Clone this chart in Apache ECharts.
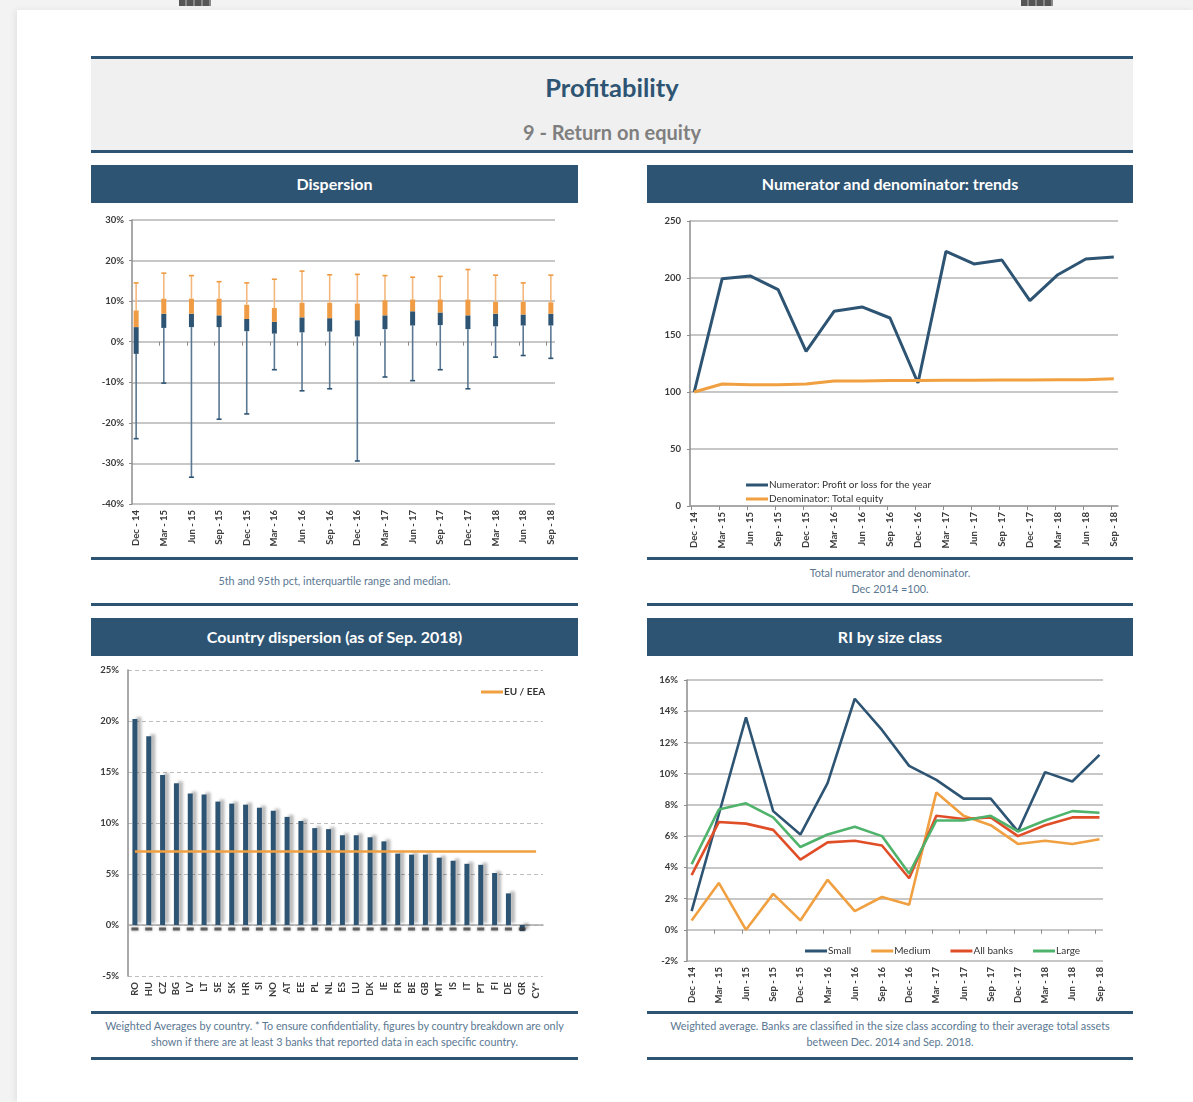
<!DOCTYPE html>
<html><head><meta charset="utf-8">
<script src="https://cdn.jsdelivr.net/npm/echarts@6/dist/echarts.min.js"></script>
<style>
body{margin:0;width:1193px;height:1102px;position:relative;overflow:hidden;background:#f3f3f3;font-family:Lato,"Open Sans",sans-serif;}
#page{position:absolute;left:17px;top:10px;width:1176px;height:1092px;background:#fff;box-shadow:-2px 0 6px rgba(0,0,0,0.07);}
.ic{position:absolute;top:0;height:6px;width:32px;background:repeating-linear-gradient(90deg,#555 0 6px,#888 6px 8px);}
.bar{position:absolute;background:#2e5473;}
.hdr{position:absolute;background:#2e5473;color:#fff;font-weight:bold;font-size:16px;text-align:center;height:38px;line-height:38px;}
.cap{position:absolute;color:#5b7892;font-size:10.8px;text-align:center;line-height:15.5px;}
#chart{position:absolute;left:0;top:0;width:1193px;height:1102px;}
</style></head>
<body>
<div id="page"></div>
<div class="ic" style="left:179px"></div>
<div class="ic" style="left:1021px"></div>
<div class="bar" style="left:91px;top:56px;width:1042px;height:3px"></div>
<div style="position:absolute;left:91px;top:59px;width:1042px;height:91px;background:#f0f0f0"></div>
<div style="position:absolute;left:91px;top:72px;width:1042px;text-align:center;font-size:25.5px;line-height:30px;font-weight:bold;color:#2e5473">Profitability</div>
<div style="position:absolute;left:91px;top:120px;width:1042px;text-align:center;font-size:20px;line-height:24px;font-weight:bold;color:#7f7f7f">9 - Return on equity</div>
<div class="bar" style="left:91px;top:150px;width:1042px;height:3px"></div>

<div class="hdr" style="left:91px;top:165px;width:487px">Dispersion</div>
<div class="hdr" style="left:647px;top:165px;width:486px">Numerator and denominator: trends</div>
<div class="hdr" style="left:91px;top:618px;width:487px">Country dispersion (as of Sep. 2018)</div>
<div class="hdr" style="left:647px;top:618px;width:486px">RI by size class</div>

<div class="bar" style="left:91px;top:557px;width:487px;height:3px"></div>
<div class="bar" style="left:91px;top:603px;width:487px;height:3px"></div>
<div class="bar" style="left:647px;top:557px;width:486px;height:3px"></div>
<div class="bar" style="left:647px;top:603px;width:486px;height:3px"></div>
<div class="bar" style="left:91px;top:1011px;width:487px;height:3px"></div>
<div class="bar" style="left:91px;top:1057px;width:487px;height:3px"></div>
<div class="bar" style="left:647px;top:1011px;width:486px;height:3px"></div>
<div class="bar" style="left:647px;top:1057px;width:486px;height:3px"></div>

<div class="cap" style="left:91px;top:573px;width:487px">5th and 95th pct, interquartile range and median.</div>
<div class="cap" style="left:647px;top:565px;width:486px">Total numerator and denominator.<br>Dec 2014 =100.</div>
<div class="cap" style="left:85px;top:1018px;width:499px;line-height:16px">Weighted Averages by country. * To ensure confidentiality, figures by country breakdown are only<br>shown if there are at least 3 banks that reported data in each specific country.</div>
<div class="cap" style="left:641px;top:1018px;width:498px;line-height:16px">Weighted average. Banks are classified in the size class according to their average total assets<br>between Dec. 2014 and Sep. 2018.</div>

<div id="chart"></div>
<script>
// ---- data ----
const periods = ['Dec - 14','Mar - 15','Jun - 15','Sep - 15','Dec - 15','Mar - 16','Jun - 16','Sep - 16','Dec - 16','Mar - 17','Jun - 17','Sep - 17','Dec - 17','Mar - 18','Jun - 18','Sep - 18'];
// Dispersion (% RoE)
const p5  = [-23.9,-10.2,-33.4,-19.1,-17.8,-6.9,-12.1,-11.6,-29.4,-8.7,-9.6,-6.9,-11.6,-3.8,-3.4,-4.1];
const q1  = [-3.0,3.4,3.6,3.6,2.6,2.0,2.3,2.5,1.3,3.1,4.0,4.1,3.1,3.8,4.0,4.0];
const med = [3.6,6.9,6.9,6.5,5.6,4.9,6.0,5.8,5.3,6.5,7.5,7.2,6.5,6.9,6.7,6.9];
const q3  = [7.7,10.6,10.6,10.6,9.1,8.3,9.6,9.6,9.4,10.2,10.4,10.4,10.4,9.8,9.8,9.7];
const p95 = [14.5,16.9,16.3,14.8,14.5,15.4,17.4,16.5,16.6,16.3,15.9,16.1,17.8,16.4,14.5,16.4];
// Numerator / denominator (Dec 2014 = 100)
const numerator   = [100,199.4,201.8,189.8,135.7,170.8,174.6,164.9,107.9,223.4,212.3,215.8,180.1,202.9,216.7,218.4];
const denominator = [100,107,106.4,106.4,107,109.6,109.6,110,110,110.2,110.2,110.5,110.5,110.8,110.8,111.7];
// Country dispersion
const countries = ['RO','HU','CZ','BG','LV','LT','SE','SK','HR','SI','NO','AT','EE','PL','NL','ES','LU','DK','IE','FR','BE','GB','MT','IS','IT','PT','FI','DE','GR','CY*'];
const countryRoe = [20.2,18.5,14.7,13.9,12.9,12.8,12.1,11.9,11.8,11.5,11.2,10.6,10.2,9.5,9.4,8.8,8.8,8.6,8.2,7.0,6.9,6.9,6.6,6.3,6.0,5.9,5.1,3.1,-0.6,null];
const euAvg = 7.2;
// RI by size class
const small    = [1.2,7.4,13.6,7.6,6.1,9.4,14.8,12.8,10.5,9.6,8.4,8.4,6.3,10.1,9.5,11.2];
const medium   = [0.6,3.0,0.0,2.3,0.6,3.2,1.2,2.1,1.6,8.8,7.3,6.7,5.5,5.7,5.5,5.8];
const allBanks = [3.5,6.9,6.8,6.4,4.5,5.6,5.7,5.4,3.3,7.3,7.1,7.2,6.0,6.7,7.2,7.2];
const large    = [4.2,7.7,8.1,7.2,5.3,6.1,6.6,6.0,3.6,7.0,7.0,7.3,6.3,7.0,7.6,7.5];

// ---- styles ----
const DARK = '#2e5473', ORANGE = '#f0a040', RED = '#e04e28', GREEN = '#4fb36c';
const lbl = {color:'#3a3a3a', fontSize:9.5, fontWeight:'bold', fontFamily:'Lato'};
const legTxt = {fontSize:10, color:'#333', fontFamily:'Lato'};
const gridLine = {show:true, lineStyle:{color:'#b5b5b5', width:1.5}};
const yLine = {show:true, onZero:false, lineStyle:{color:'#8c8c8c', width:1.5}};
const idx = periods.map((_, i) => i);
const periodLabel = v => periods[Math.round(v)] || '';

function periodAxis(grid, min, max) {
  return {type:'value', gridIndex:grid, min:min, max:max, position:'bottom',
    axisLine:{show:false, onZero:false}, axisTick:{show:false}, splitLine:{show:false},
    axisLabel:Object.assign({customValues:idx, formatter:periodLabel, rotate:90, margin:6}, lbl)};
}
function zeroTickAxis(grid, min, max, shift) {
  return {type:'value', gridIndex:grid, min:min, max:max, position:'top',
    axisLine:{show:false, onZero:true}, splitLine:{show:false}, axisLabel:{show:false},
    axisTick:{show:true, inside:true, length:4, customValues:idx.slice(1).map(i => i - shift), lineStyle:{color:'#8c8c8c', width:1}}};
}

const option = {
  animation:false,
  grid:[
    {left:132, top:220, width:423, height:284},
    {left:690, top:221, width:428, height:285},
    {left:128, top:670, width:415, height:306},
    {left:687, top:680, width:416, height:281}
  ],
  xAxis:[
    periodAxis(0, -0.15, 15.15),
    zeroTickAxis(0, -0.15, 15.15, 0.16),
    {type:'value', gridIndex:1, min:-0.15, max:15.15, position:'bottom',
      axisLine:{show:true, onZero:false, lineStyle:{color:'#a0a0a0', width:1.5}},
      axisTick:{show:true, length:4, customValues:idx.map(i => i - 0.1), lineStyle:{color:'#8c8c8c'}},
      splitLine:{show:false},
      axisLabel:Object.assign({customValues:idx, formatter:periodLabel, rotate:90, margin:6}, lbl)},
    {type:'category', gridIndex:2, data:countries, position:'bottom', boundaryGap:true,
      axisLine:{show:false, onZero:false}, axisTick:{show:false},
      axisLabel:Object.assign({interval:0, rotate:90, margin:6}, lbl)},
    {type:'category', gridIndex:2, data:countries, position:'top', boundaryGap:true,
      axisLine:{show:true, onZero:true, lineStyle:{color:'#a8a8a8', width:1.5}}, axisTick:{show:false}, axisLabel:{show:false}},
    periodAxis(3, -0.17, 15.13),
    zeroTickAxis(3, -0.17, 15.13, 0.15)
  ],
  yAxis:[
    {type:'value', gridIndex:0, min:-40, max:30, interval:10, axisLine:yLine, axisTick:{show:true, length:3, lineStyle:{color:'#8c8c8c'}},
      splitLine:gridLine, axisLabel:Object.assign({formatter:'{value}%', margin:8}, lbl)},
    {type:'value', gridIndex:1, min:0, max:250, interval:50, axisLine:yLine, axisTick:{show:true, length:3, lineStyle:{color:'#8c8c8c'}},
      splitLine:gridLine, axisLabel:Object.assign({margin:9}, lbl)},
    {type:'value', gridIndex:2, min:-5, max:25, interval:5, axisLine:yLine, axisTick:{show:false},
      splitLine:{show:true, lineStyle:{color:'#bdbdbd', width:1, type:[4,3]}}, axisLabel:Object.assign({formatter:'{value}%', margin:9}, lbl)},
    {type:'value', gridIndex:3, min:-2, max:16, interval:2, axisLine:yLine, axisTick:{show:true, length:3, lineStyle:{color:'#8c8c8c'}},
      splitLine:gridLine, axisLabel:Object.assign({formatter:'{value}%', margin:9}, lbl)}
  ],
  legend:[
    {data:['Numerator: Profit or loss for the year','Denominator: Total equity'], orient:'vertical', left:741, top:475,
      icon:'rect', itemWidth:22, itemHeight:3, itemGap:4, textStyle:Object.assign({padding:[0,0,0,-4]}, legTxt)},
    {data:['EU / EEA'], left:476, top:682, icon:'rect', itemWidth:22, itemHeight:3,
      textStyle:Object.assign({fontWeight:'bold', padding:[0,0,0,-4]}, legTxt)},
    {data:['Small','Medium','All banks','Large'], left:800, top:941, icon:'rect', itemWidth:22, itemHeight:3, itemGap:20,
      textStyle:Object.assign({padding:[0,0,0,-4]}, legTxt)}
  ],
  series:[
    {type:'custom', name:'Dispersion', xAxisIndex:0, yAxisIndex:0,
      data:idx.map(i => [i, p5[i], q1[i], med[i], q3[i], p95[i]]),
      encode:{x:0, y:[1,2,3,4,5]},
      renderItem:function(params, api){
        const x = api.value(0);
        const c = v => api.coord([x, v]);
        const lo = c(api.value(1)), a = c(api.value(2)), m = c(api.value(3)), b = c(api.value(4)), hi = c(api.value(5));
        const X = lo[0], bw = 5, cw = 5;
        return {type:'group', children:[
          {type:'line', shape:{x1:X, y1:lo[1], x2:X, y2:a[1]}, style:{stroke:'#5a7893', lineWidth:1.6}},
          {type:'line', shape:{x1:X-cw/2, y1:lo[1], x2:X+cw/2, y2:lo[1]}, style:{stroke:DARK, lineWidth:1.6}},
          {type:'line', shape:{x1:X, y1:b[1], x2:X, y2:hi[1]}, style:{stroke:'#f4b87e', lineWidth:1.6}},
          {type:'line', shape:{x1:X-cw/2, y1:hi[1], x2:X+cw/2, y2:hi[1]}, style:{stroke:'#ee9a40', lineWidth:1.6}},
          {type:'rect', shape:{x:X-bw/2, y:m[1], width:bw, height:a[1]-m[1]}, style:{fill:DARK}},
          {type:'rect', shape:{x:X-bw/2, y:b[1], width:bw, height:m[1]-b[1]}, style:{fill:'#ef9c44'}}
        ]};
      }},
    {type:'line', name:'Numerator: Profit or loss for the year', xAxisIndex:2, yAxisIndex:1,
      data:idx.map(i => [i, numerator[i]]), symbol:'none', lineStyle:{color:DARK, width:3}, itemStyle:{color:DARK}},
    {type:'line', name:'Denominator: Total equity', xAxisIndex:2, yAxisIndex:1,
      data:idx.map(i => [i, denominator[i]]), symbol:'none', lineStyle:{color:ORANGE, width:3}, itemStyle:{color:ORANGE}},
    {type:'bar', name:'Country', xAxisIndex:3, yAxisIndex:2, data:countryRoe, barWidth:5,
      itemStyle:{color:DARK, shadowColor:'rgba(0,0,0,0.28)', shadowBlur:3, shadowOffsetX:4, shadowOffsetY:-2}},
    {type:'scatter', name:'zero', xAxisIndex:3, yAxisIndex:2, silent:true,
      data:countryRoe.map(v => v == null ? null : 0), symbol:'rect', symbolSize:[7,3], symbolOffset:[0,4],
      itemStyle:{color:'#3c3c3c', opacity:0.75, shadowColor:'rgba(0,0,0,0.5)', shadowBlur:3}},
    {type:'line', name:'EU / EEA', xAxisIndex:3, yAxisIndex:2, data:[], symbol:'none',
      lineStyle:{color:ORANGE, width:2.5}, itemStyle:{color:ORANGE},
      markLine:{silent:true, symbol:'none', label:{show:false}, lineStyle:{color:ORANGE, width:2.5, type:'solid'},
        data:[[{coord:[countries[0], euAvg]}, {coord:[countries[countries.length-1], euAvg]}]]}},
    {type:'line', name:'Small', xAxisIndex:5, yAxisIndex:3, data:idx.map(i => [i, small[i]]), symbol:'none',
      lineStyle:{color:DARK, width:2.6}, itemStyle:{color:DARK}},
    {type:'line', name:'Medium', xAxisIndex:5, yAxisIndex:3, data:idx.map(i => [i, medium[i]]), symbol:'none',
      lineStyle:{color:ORANGE, width:2.6}, itemStyle:{color:ORANGE}},
    {type:'line', name:'All banks', xAxisIndex:5, yAxisIndex:3, data:idx.map(i => [i, allBanks[i]]), symbol:'none',
      lineStyle:{color:RED, width:2.6}, itemStyle:{color:RED}},
    {type:'line', name:'Large', xAxisIndex:5, yAxisIndex:3, data:idx.map(i => [i, large[i]]), symbol:'none',
      lineStyle:{color:GREEN, width:2.6}, itemStyle:{color:GREEN}}
  ]
};
const chart = echarts.init(document.getElementById('chart'), null, {renderer:'canvas'});
chart.setOption(option);
</script>
</body></html>
